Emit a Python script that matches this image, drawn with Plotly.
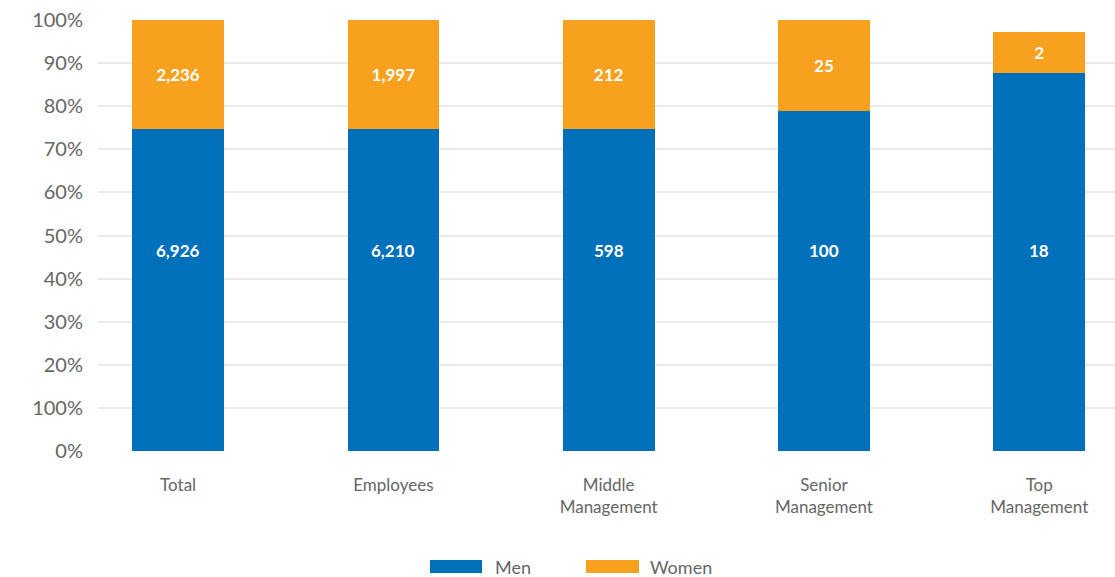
import plotly.graph_objects as go

categories = ["Total", "Employees", "Middle<br>Management", "Senior<br>Management", "Top<br>Management"]
men_share = [0.747, 0.747, 0.747, 0.789, 0.877]
women_share = [0.253, 0.253, 0.253, 0.211, 0.095]
men_counts = ["6,926", "6,210", "598", "100", "18"]
women_counts = ["2,236", "1,997", "212", "25", "2"]
series_names = ["Men", "Women"]
tick_vals = [0, 0.1, 0.2, 0.3, 0.4, 0.5, 0.6, 0.7, 0.8, 0.9, 1.0]
tick_text = ["0%", "100%", "20%", "30%", "40%", "50%", "60%", "70%", "80%", "90%", "100%"]

BLUE = "#0070BA"
ORANGE = "#F7A11F"
GRAY = "#666666"
FONT = "Lato"

W, H = 1115, 577
ML, MR, MT, MB = 98, 0, 20, 126
PW, PH = W - ML - MR, H - MT - MB

fig = go.Figure()
fig.add_trace(go.Bar(
    x=categories, y=men_share, name=series_names[0], marker_color=BLUE,
    marker_line_width=0, width=0.426, hoverinfo="skip", showlegend=False,
))
fig.add_trace(go.Bar(
    x=categories, y=women_share, name=series_names[1], marker_color=ORANGE,
    marker_line_width=0, width=0.426, text=women_counts,
    textposition="inside", insidetextanchor="middle",
    textfont=dict(color="white", size=17, family=FONT, weight="bold"),
    hoverinfo="skip", showlegend=False,
))

label_y = 0.465
for c, t in zip(categories, men_counts):
    fig.add_annotation(x=c, y=label_y, text=t, showarrow=False,
                       font=dict(color="white", size=17, family=FONT, weight="bold"))

# custom legend with wide swatches
def px_x(p):
    return (p - ML) / PW

def px_y(p):
    return (H - MB - p) / PH

legend_items = [(series_names[0], BLUE, 430, 482, 493), (series_names[1], ORANGE, 586, 639, 648)]
for name, col, sx0, sx1, tx in legend_items:
    fig.add_shape(type="rect", xref="paper", yref="paper",
                  x0=px_x(sx0), x1=px_x(sx1), y0=px_y(573), y1=px_y(560),
                  fillcolor=col, line_width=0)
    fig.add_annotation(xref="paper", yref="paper", x=px_x(tx), y=px_y(567),
                       xanchor="left", yanchor="middle", text=name, showarrow=False,
                       font=dict(size=18, color=GRAY, family=FONT))

fig.update_layout(
    barmode="stack",
    width=W, height=H,
    margin=dict(l=ML, r=MR, t=MT, b=MB, autoexpand=False),
    plot_bgcolor="white", paper_bgcolor="white",
    font=dict(family=FONT, color=GRAY),
    showlegend=False,
    xaxis=dict(range=[-0.372, 4.352], showgrid=False, showline=False, ticks="",
               tickfont=dict(size=17, color=GRAY, family=FONT), ticklabelstandoff=22,
               automargin=False),
    yaxis=dict(range=[0, 1.0], tickvals=tick_vals, ticktext=tick_text,
               showgrid=True, gridcolor="#EAEAEA", gridwidth=2, zeroline=False,
               showline=False, tickfont=dict(size=20, color=GRAY, family=FONT),
               ticklabelstandoff=14, automargin=False),
)

fig.write_html("out.html", config={"displayModeBar": False},
               post_script="document.body.style.margin='0';document.body.style.overflow='hidden';")
